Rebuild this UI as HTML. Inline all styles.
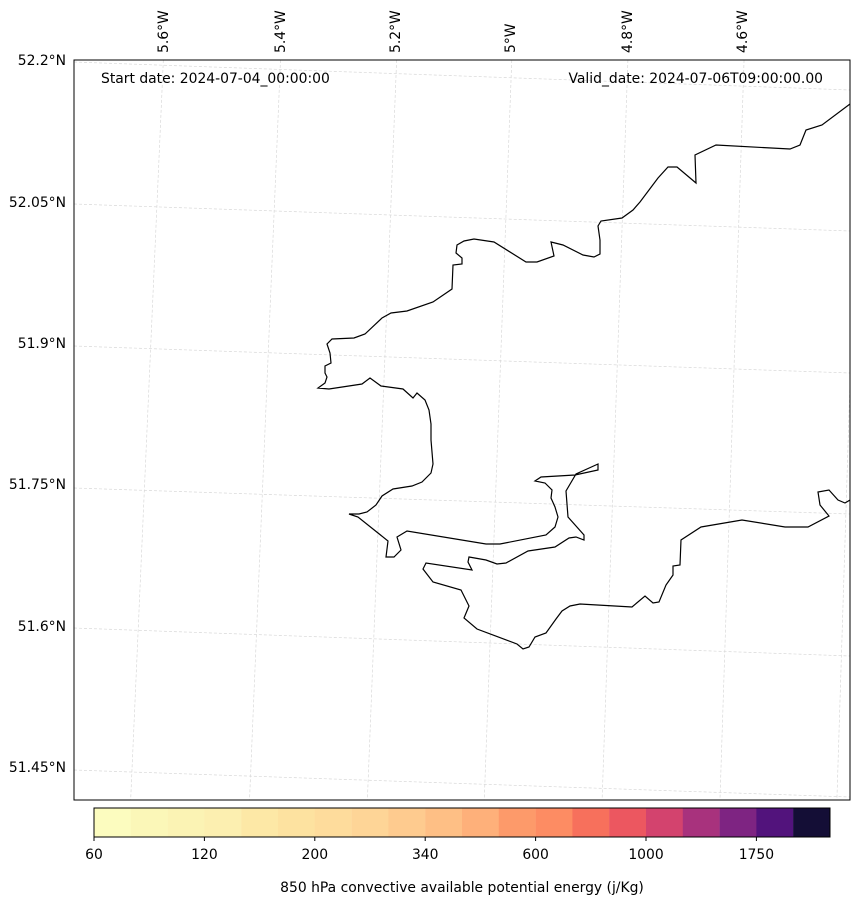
<!DOCTYPE html>
<html><head><style>body{margin:0;background:#fff}svg{display:block}text{font-family:"DejaVu Sans",sans-serif;font-size:13.9px;fill:#000}</style></head>
<body>
<svg width="859" height="907" xmlns="http://www.w3.org/2000/svg">
<defs><clipPath id="c"><rect x="74" y="60" width="776" height="740"/></clipPath></defs>
<g clip-path="url(#c)" stroke="#d8d8d8" stroke-width="0.7" stroke-dasharray="3,2" fill="none">
<line x1="166" y1="0" x2="128" y2="860"/><line x1="283" y1="0" x2="247" y2="860"/><line x1="399" y1="0" x2="365" y2="860"/><line x1="514" y1="0" x2="482" y2="860"/><line x1="630" y1="0" x2="600" y2="860"/><line x1="746" y1="0" x2="718" y2="860"/><line x1="862" y1="0" x2="835" y2="860"/>
<line x1="74" y1="62" x2="850" y2="90"/><line x1="74" y1="204" x2="850" y2="231"/><line x1="74" y1="346" x2="850" y2="373"/><line x1="74" y1="488" x2="850" y2="514"/><line x1="74" y1="628" x2="850" y2="656"/><line x1="74" y1="770" x2="850" y2="797"/>
</g>
<g clip-path="url(#c)" fill="none" stroke="#000" stroke-width="1.2">
<polyline points="850,104 822,125 806,130 800,145 790,149 716,145 695,155 696,183 677,167 668,167 658,178 640,202 633,210 622,218 601,221 598,226 600,240 600,254 594,257 583,255 563,245 551,242 554,256 537,262 526,262 494,242 474,239 464,241 457,245 456,253 462,258 462,264 453,265 452,289 433,302 407,311 391,313 382,318 365,334 354,338 332,339 327,344 330,353 331,363 325,366 325,373 327,377 325,383 318,388 329,389 362,384 370,378 381,386 403,389 413,398 417,393 425,400 429,410 431,424 431,440 433,464 431,473 422,482 412,486 393,489 382,496 376,505 367,512 359,514 349,514 358,517 388,541 386,557 394,557 401,550 397,537 407,531 486,544 500,544 546,535 555,527 558,517 555,507 551,498 552,490 545,483 535,481 541,477 575,475 598,470 598,464 576,474 566,491 568,517 584,535 584,540 576,537 569,538 555,547 528,551 506,563 497,564 486,560 469,557 468,562 472,570 426,563 423,569 433,582 461,590 469,606 464,618 477,629 517,644 523,649 529,647 535,637 546,633 556,619 562,611 570,606 580,604 632,607 645,596 653,603 659,602 666,585 673,575 673,566 680,565 681,540 701,527 742,520 785,527 808,527 829,516 820,505 818,492 829,490 838,500 845,503 850,500"/>
</g>
<rect x="74" y="60" width="776" height="740" fill="none" stroke="#000" stroke-width="1"/>
<text x="101" y="83">Start date: 2024-07-04_00:00:00</text>
<text x="823" y="83" text-anchor="end">Valid_date: 2024-07-06T09:00:00.00</text>
<g text-anchor="end">
<text x="66" y="65">52.2°N</text><text x="66" y="207">52.05°N</text><text x="66" y="348">51.9°N</text><text x="66" y="489">51.75°N</text><text x="66" y="631">51.6°N</text><text x="66" y="772">51.45°N</text>
</g>
<g>
<text transform="translate(168,53) rotate(-90)">5.6°W</text>
<text transform="translate(285,53) rotate(-90)">5.4°W</text>
<text transform="translate(400,53) rotate(-90)">5.2°W</text>
<text transform="translate(515,53) rotate(-90)">5°W</text>
<text transform="translate(632,53) rotate(-90)">4.8°W</text>
<text transform="translate(747,53) rotate(-90)">4.6°W</text>
</g>
<g>
<rect x="94" y="808" width="37" height="29" fill="#fcfcbf"/><rect x="130.8" y="808" width="37" height="29" fill="#fbf7b8"/><rect x="167.6" y="808" width="37" height="29" fill="#fbf3b4"/><rect x="204.4" y="808" width="37" height="29" fill="#fcefb0"/><rect x="241.2" y="808" width="37" height="29" fill="#fde8a6"/><rect x="278" y="808" width="37" height="29" fill="#fde2a0"/><rect x="314.8" y="808" width="37" height="29" fill="#fedc9c"/><rect x="351.6" y="808" width="37" height="29" fill="#fed597"/><rect x="388.4" y="808" width="37" height="29" fill="#fecb8f"/><rect x="425.2" y="808" width="37" height="29" fill="#febf85"/><rect x="462" y="808" width="37" height="29" fill="#feb07a"/><rect x="498.8" y="808" width="37" height="29" fill="#fd9a6a"/><rect x="535.6" y="808" width="37" height="29" fill="#fd8c63"/><rect x="572.4" y="808" width="37" height="29" fill="#f7705c"/><rect x="609.2" y="808" width="37" height="29" fill="#ec5760"/><rect x="646" y="808" width="37" height="29" fill="#d3436e"/><rect x="682.8" y="808" width="37" height="29" fill="#a8327d"/><rect x="719.6" y="808" width="37" height="29" fill="#7e2482"/><rect x="756.4" y="808" width="37" height="29" fill="#52137c"/><rect x="793.2" y="808" width="36.8" height="29" fill="#140e36"/>
<rect x="94" y="808" width="736" height="29" fill="none" stroke="#000" stroke-width="1"/>
<g stroke="#000"><line x1="94" y1="837" x2="94" y2="841"/><line x1="204.4" y1="837" x2="204.4" y2="841"/><line x1="314.8" y1="837" x2="314.8" y2="841"/><line x1="425.2" y1="837" x2="425.2" y2="841"/><line x1="535.6" y1="837" x2="535.6" y2="841"/><line x1="646" y1="837" x2="646" y2="841"/><line x1="756.4" y1="837" x2="756.4" y2="841"/></g>
<g text-anchor="middle"><text x="94" y="859">60</text><text x="204.4" y="859">120</text><text x="314.8" y="859">200</text><text x="425.2" y="859">340</text><text x="535.6" y="859">600</text><text x="646" y="859">1000</text><text x="756.4" y="859">1750</text></g>
<text x="462" y="892" text-anchor="middle">850 hPa convective available potential energy (j/Kg)</text>
</g>
</svg>
</body></html>
